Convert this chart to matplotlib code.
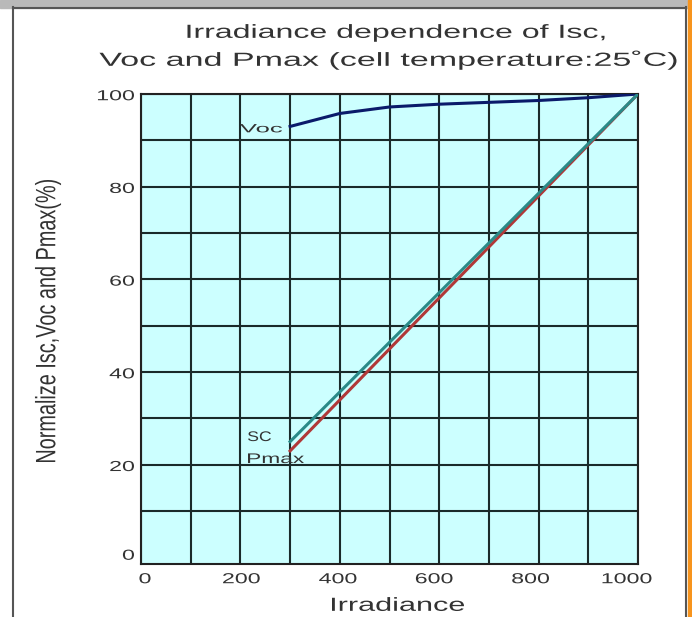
import matplotlib
matplotlib.use('Agg')
import matplotlib.pyplot as plt
from matplotlib.patches import Rectangle, PathPatch
from matplotlib.transforms import IdentityTransform, Affine2D
from matplotlib.font_manager import FontProperties
from matplotlib.textpath import TextPath

# data
irr = [300, 400, 500, 600, 700, 800, 900, 1000]
voc = [93.0, 95.8, 97.2, 97.8, 98.2, 98.6, 99.2, 100.0]
isc_x = [300, 1000]
isc = [25.0, 100.0]
pmax_x = [300, 1000]
pmax = [23.0, 100.0]

xticks = [0, 200, 400, 600, 800, 1000]
yticks = [0, 20, 40, 60, 80, 100]

FAM = 'Liberation Sans'
W, H = 692, 617
TXT = '#333333'
prop = FontProperties(family=FAM)

fig = plt.figure(figsize=(W/100, H/100), dpi=100)
ident = IdentityTransform()


def ptext(xp, yp, s, em, width=None, sx=1.5, ha='center', rot=0):
    # text drawn as a path, stretched sideways like the original picture
    # xp, yp: pixels from top-left, yp = middle of the capitals
    tp = TextPath((0, 0), s, size=em, prop=prop)
    ext = tp.get_extents()
    if width is not None:
        sx = width / ext.width
    if ha == 'center':
        dx = -(ext.x0 + ext.x1) / 2
    elif ha == 'right':
        dx = -ext.x1
    else:
        dx = -ext.x0
    tr = (Affine2D().translate(dx, -0.72 * em / 2).scale(sx, 1)
          .rotate_deg(rot).translate(xp, H - yp))
    fig.add_artist(PathPatch(tr.transform_path(tp), facecolor=TXT,
                             edgecolor='none', transform=ident))


# window frame
fig.patches.append(Rectangle((0, 1 - 8/H), 1, 8/H, transform=fig.transFigure,
                             color='#b9b9b9', zorder=0))
fig.patches.append(Rectangle((688/W, 0), 4/W, 1, transform=fig.transFigure,
                             color='#f7941d', zorder=1))
fig.lines.append(plt.Line2D([13/W, 13/W], [0, 1 - 7/H], transform=fig.transFigure,
                            color='#555555', lw=1.5))
fig.lines.append(plt.Line2D([686/W, 686/W], [0, 1 - 7/H], transform=fig.transFigure,
                            color='#555555', lw=1.5))
fig.lines.append(plt.Line2D([13/W, 686/W], [1 - 8/H, 1 - 8/H], transform=fig.transFigure,
                            color='#555555', lw=1.5))

ax = fig.add_axes([141/W, 1 - 564/H, 497/W, 470/H])
ax.set_facecolor('#ccffff')
ax.set_xlim(0, 1000)
ax.set_ylim(-1.4, 100)

for x in range(0, 1001, 100):
    ax.axvline(x, color='#1a2a2a', lw=1.5, zorder=1)
for y in range(10, 101, 10):
    ax.axhline(y, color='#1a2a2a', lw=1.5, zorder=1)

ax.plot(irr, voc, color='#0a1a6a', lw=2.2, zorder=3)
ax.plot(isc_x, isc, color='#2a8a88', lw=2.2, zorder=3)
ax.plot(pmax_x, pmax, color='#b03838', lw=2.2, zorder=2)

ax.set_xticks([])
ax.set_yticks([])
for s in ax.spines.values():
    s.set_color('#222222')
    s.set_linewidth(1.5)

# tick labels (the original's labels sit a little left of the grid)
for v in xticks:
    px = ax.transData.transform((v, 0))[0] + 4 - 0.015 * v
    ptext(px, 578, str(v), 14.5, sx=1.6)
for v in yticks:
    py = H - ax.transData.transform((0, v))[1]
    ptext(134, py + 1 - (4 if v == 0 else 0), str(v), 14.5, sx=1.6, ha='right')

# curve labels
ptext(240, 128, 'Voc', 12, width=42, ha='left')
ptext(248, 436, 'SC', 14, width=23, ha='left')
ptext(248, 458, 'Pmax', 14, width=56, ha='left')

# titles
ptext(396, 31, 'Irradiance dependence of Isc,', 19, width=417)
ptext(388, 59, 'Voc and Pmax (cell temperature:25\u02daC)', 19, width=577)
ptext(398, 604, 'Irradiance', 19, width=132)

# y label, condensed because the picture is stretched sideways
ylab = 'Normalize Isc,Voc and Pmax(%)'
tp = TextPath((0, 0), ylab, size=28, prop=prop)
ext = tp.get_extents()
tr = (Affine2D().translate(-(ext.x0 + ext.x1) / 2, -(ext.y0 + ext.y1) / 2)
      .scale(282 / ext.width, 1).rotate_deg(90).translate(48, H - 321))
fig.add_artist(PathPatch(tr.transform_path(tp), facecolor=TXT, edgecolor='none',
                         transform=ident))

fig.savefig('out.png', dpi=100, facecolor='white')
